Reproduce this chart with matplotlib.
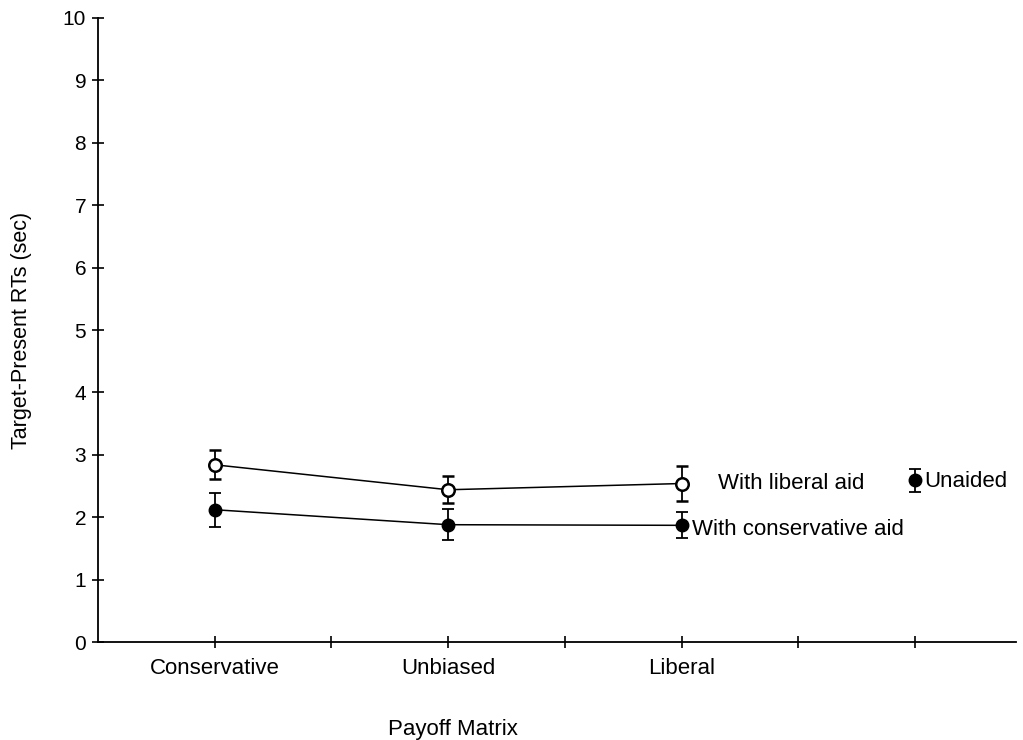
import numpy as np
import matplotlib.pyplot as plt

plt.rcParams['font.family'] = ['Liberation Sans', 'DejaVu Sans']

conditions = ['Conservative', 'Unbiased', 'Liberal']
liberal_aid = [2.84, 2.44, 2.54]
liberal_err = [0.23, 0.22, 0.28]
conservative_aid = [2.12, 1.88, 1.87]
conservative_err = [0.27, 0.25, 0.21]
unaided = 2.59
unaided_err = 0.19

xpos = [1, 3, 5]
x_unaided = 7

fig = plt.figure(figsize=(10.23, 7.40), dpi=100)
ax = fig.add_axes([0.0958, 0.1324, 0.897, 0.8433])

ax.errorbar(xpos, liberal_aid, yerr=liberal_err, color='black', lw=1.1,
            marker='o', ms=9, mfc='white', mec='black', mew=1.8,
            elinewidth=1.3, capsize=4, capthick=1.3, zorder=3)
ax.errorbar(xpos, conservative_aid, yerr=conservative_err, color='black', lw=1.1,
            marker='o', ms=9, mfc='black', mec='black',
            elinewidth=1.3, capsize=4, capthick=1.3, zorder=3)
ax.errorbar([x_unaided], [unaided], yerr=[unaided_err], color='black', ls='none',
            marker='o', ms=9, mfc='black', mec='black',
            elinewidth=1.3, capsize=4, capthick=1.3, zorder=3)

ax.text(xpos[-1] + 0.31, liberal_aid[-1] + 0.0, 'With liberal aid', fontsize=16, va='center')
ax.text(xpos[-1] + 0.09, conservative_aid[-1] - 0.07, 'With conservative aid', fontsize=16, va='center')
ax.text(x_unaided + 0.08, unaided - 0.01, 'Unaided', fontsize=16, va='center')

ax.set_xlim(0, 7.86)
ax.set_ylim(0, 10)
ax.set_yticks(range(11))
ax.set_xticks(range(1, 8))
ax.set_xticklabels(['Conservative', '', 'Unbiased', '', 'Liberal', '', ''])

for s in ['top', 'right']:
    ax.spines[s].set_visible(False)
for s in ['left', 'bottom']:
    ax.spines[s].set_linewidth(1.3)

ax.tick_params(axis='both', direction='inout', length=9, width=1.2, labelsize=15)
ax.tick_params(axis='x', labelsize=16, pad=7)
ax.tick_params(axis='y', pad=4)

ax.set_ylabel('Target-Present RTs (sec)', fontsize=15.5, labelpad=22)
fig.text(453 / 1023, 1 - 730 / 740, 'Payoff Matrix', fontsize=16, ha='center', va='center')

fig.savefig('out.png', dpi=100)
